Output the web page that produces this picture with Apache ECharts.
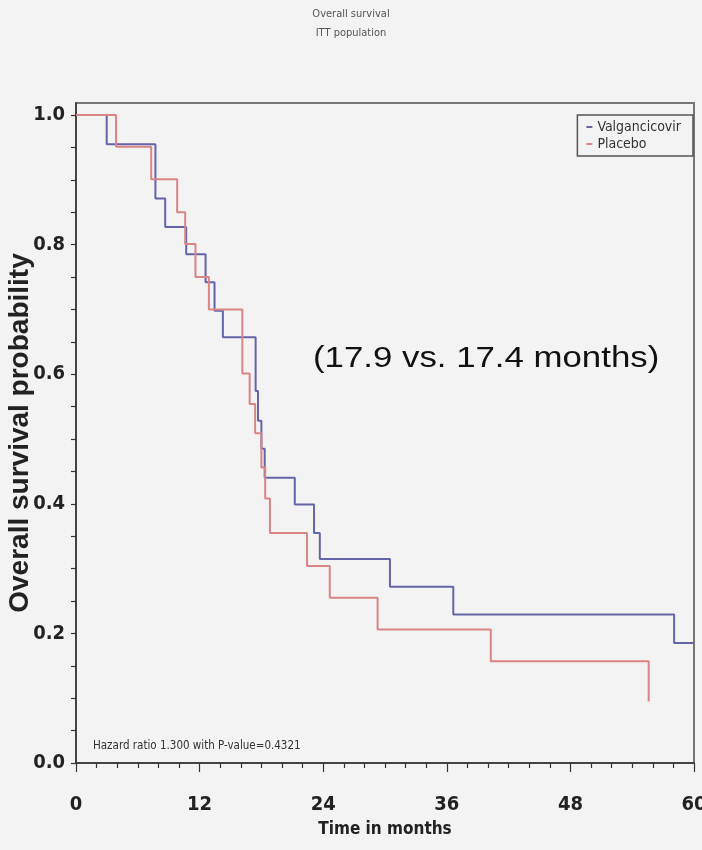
<!DOCTYPE html>
<html>
<head>
<meta charset="utf-8">
<script src="https://cdn.jsdelivr.net/npm/echarts@6/dist/echarts.min.js"></script>
<style>
html,body{margin:0;padding:0;background:#f3f3f3;}
#chart{width:702px;height:850px;}
</style>
</head>
<body>
<div id="chart"></div>
<script>
// Kaplan-Meier step data (time in months, survival probability)
var valganTimes = [0, 2.98, 7.71, 8.66, 10.7, 12.58, 13.45, 14.26, 17.44, 17.67, 18.0, 18.32, 21.24, 23.11, 23.67, 30.48, 36.63, 58.07, 60];
var valganSurv  = [1.0, 0.955, 0.871, 0.827, 0.785, 0.742, 0.698, 0.657, 0.574, 0.528, 0.485, 0.440, 0.399, 0.355, 0.315, 0.272, 0.229, 0.185, 0.185];
var placeboTimes = [0, 3.89, 7.30, 9.82, 10.60, 11.60, 12.90, 16.15, 16.86, 17.39, 18.0, 18.37, 18.83, 22.43, 24.64, 29.28, 40.27, 55.6];
var placeboSurv  = [1.0, 0.951, 0.901, 0.850, 0.801, 0.750, 0.700, 0.601, 0.554, 0.509, 0.456, 0.408, 0.355, 0.304, 0.255, 0.206, 0.157, 0.095];
var seriesNames = ['Valgancicovir', 'Placebo'];
var yLabelValues = [0, 0.2, 0.4, 0.6, 0.8, 1.0];
var yTickValues = [0, 0.05, 0.1, 0.15, 0.2, 0.25, 0.3, 0.35, 0.4, 0.45, 0.5, 0.55, 0.6, 0.65, 0.7, 0.75, 0.8, 0.85, 0.9, 0.95, 1.0];
var titleText = 'Overall survival\nITT population';
var hazardText = 'Hazard ratio 1.300 with P-value=0.4321';
var medianText = '(17.9 vs. 17.4 months)';

function pairs(t, s) { return t.map(function (v, i) { return [v, s[i]]; }); }

var NARROW = "'DejaVu Sans Condensed','Liberation Sans',sans-serif";
var chart = echarts.init(document.getElementById('chart'));
chart.setOption({
  backgroundColor: '#f3f3f3',
  animation: false,
  title: {
    text: titleText,
    left: 'center',
    top: 0,
    textStyle: { fontFamily: NARROW, fontSize: 11, fontWeight: 'normal', color: '#555', lineHeight: 19 }
  },
  legend: {
    data: seriesNames,
    orient: 'vertical',
    right: 9,
    top: 115,
    icon: 'rect',
    itemWidth: 6,
    itemHeight: 2,
    itemGap: 3,
    padding: [5, 12, 5, 9],
    borderColor: '#555',
    borderWidth: 1.5,
    textStyle: { fontFamily: NARROW, fontSize: 14, color: '#333' }
  },
  grid: {
    left: 76, right: 8, top: 103, bottom: 87,
    outerBoundsMode: 'none', containLabel: false,
    show: true, borderColor: '#777', borderWidth: 2, backgroundColor: 'transparent'
  },
  xAxis: {
    type: 'value', min: 0, max: 60, interval: 12,
    name: 'Time in months', nameLocation: 'middle', nameGap: 58, nameMoveOverlap: false,
    nameTextStyle: { fontFamily: NARROW, fontSize: 17, fontWeight: 'bold', color: '#222' },
    axisLine: { show: true, lineStyle: { color: '#333', width: 1.5 } },
    axisTick: { show: true, length: 9, lineStyle: { color: '#333', width: 1.2 } },
    minorTick: { show: true, splitNumber: 6, length: 5, lineStyle: { color: '#333', width: 1.2 } },
    axisLabel: { margin: 32, fontFamily: NARROW, fontSize: 20, fontWeight: 'bold', color: '#222' },
    splitLine: { show: false }
  },
  yAxis: {
    type: 'value', min: 0, max: 1.0185,
    name: 'Overall survival probability', nameLocation: 'middle', nameGap: 42, nameRotate: 90, nameMoveOverlap: false,
    nameTextStyle: { fontFamily: "'Liberation Sans',Arial,sans-serif", fontSize: 28, fontWeight: 'bold', color: '#222' },
    axisLine: { show: true, lineStyle: { color: '#333', width: 1.5 } },
    axisTick: { show: true, customValues: yTickValues, length: 5, lineStyle: { color: '#333', width: 1.2 } },
    axisLabel: {
      customValues: yLabelValues, margin: 11,
      formatter: function (v) { return v.toFixed(1); },
      fontFamily: NARROW, fontSize: 20, fontWeight: 'bold', color: '#222'
    },
    splitLine: { show: false }
  },
  graphic: [
    {
      type: 'text', left: 93, top: 740,
      style: { text: hazardText, font: "11.5px " + NARROW, fill: '#333' }
    },
    {
      type: 'text', x: 313, y: 359, scaleX: 1.2,
      style: { text: medianText, x: 0, y: 0, font: "29px 'Liberation Sans',Arial,sans-serif", fill: '#111', textAlign: 'left', textVerticalAlign: 'middle' }
    }
  ],
  series: [
    {
      name: seriesNames[0], type: 'line', step: 'end', symbol: 'none',
      data: pairs(valganTimes, valganSurv),
      lineStyle: { color: '#6464a8', width: 2 }, itemStyle: { color: '#6464a8' }
    },
    {
      name: seriesNames[1], type: 'line', step: 'end', symbol: 'none',
      data: pairs(placeboTimes, placeboSurv),
      lineStyle: { color: '#d98585', width: 2 }, itemStyle: { color: '#d98585' }
    }
  ]
});
</script>
</body>
</html>
